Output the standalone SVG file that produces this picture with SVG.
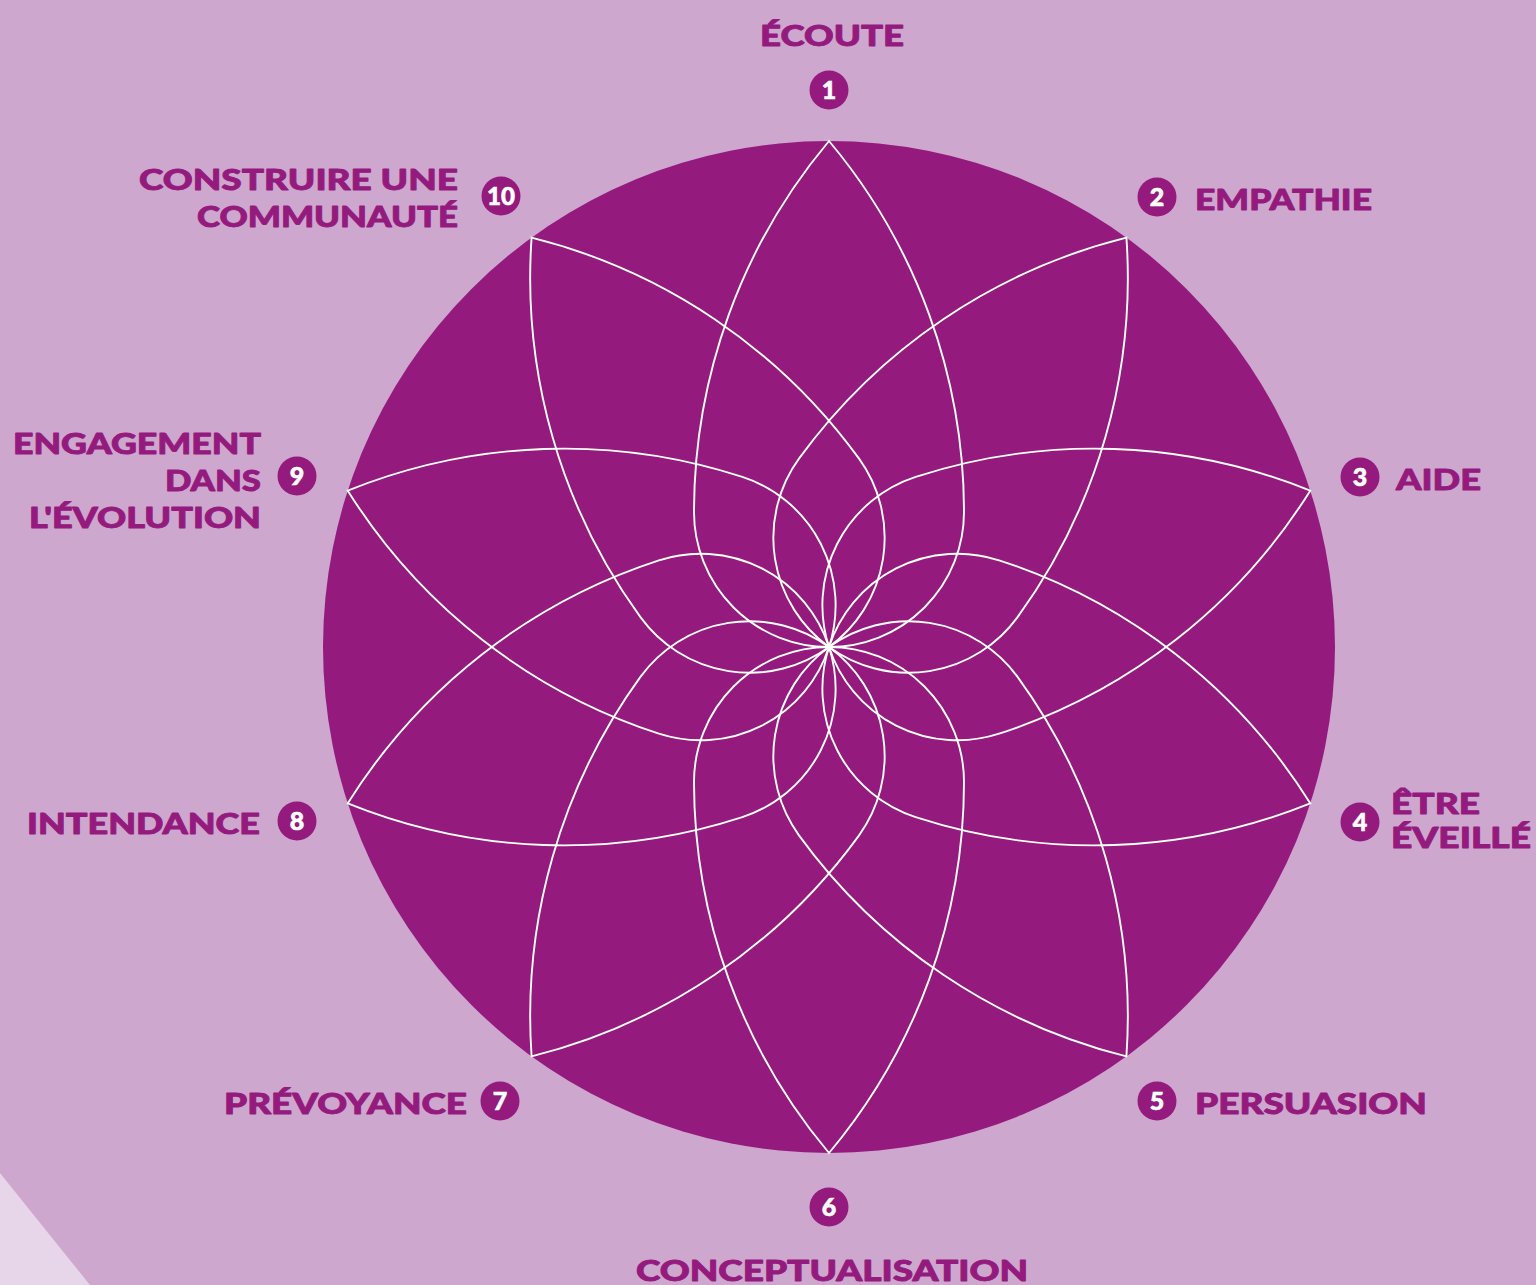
<svg xmlns="http://www.w3.org/2000/svg" xmlns:xlink="http://www.w3.org/1999/xlink" width="1536" height="1285" viewBox="0 0 1536 1285">
  <style>
    .label { font-family: Lato, "Liberation Sans", sans-serif; font-weight: 900; font-size: 29px; fill: #941b7d; stroke: #941b7d; stroke-width: 0.9; stroke-linejoin: round; }
    .num-disc { fill: #941b7d; }
    .num { font-family: Lato, "Liberation Sans", sans-serif; font-weight: 900; font-size: 25px; fill: #ffffff; stroke: #ffffff; stroke-width: 0.6; text-anchor: middle; }
    .petal { fill: none; stroke: #ffffff; stroke-width: 1.9; stroke-linejoin: miter; }
  </style>
  <defs>
    <!-- one teardrop petal: round end through the centre, point on the rim (R = 506) -->
    <path id="petal" class="petal" d="M0,0 A135,135 0 0 1 -135,-135 A577.3,577.3 0 0 1 0,-506 A577.3,577.3 0 0 1 135,-135 A135,135 0 0 1 0,0 Z"/>
  </defs>

  <!-- page background -->
  <rect x="0" y="0" width="1536" height="1285" fill="#cea7cf"/>
  <path d="M0,1173 Q44,1228 90,1285 L0,1285 Z" fill="#e7d6e9"/>

  <!-- rose disc -->
  <g id="rose">
    <circle cx="829" cy="647" r="506" fill="#941b7d"/>
    <g id="petals" transform="translate(829,647)">
      <use xlink:href="#petal" href="#petal" transform="rotate(0)"/>
      <use xlink:href="#petal" href="#petal" transform="rotate(36)"/>
      <use xlink:href="#petal" href="#petal" transform="rotate(72)"/>
      <use xlink:href="#petal" href="#petal" transform="rotate(108)"/>
      <use xlink:href="#petal" href="#petal" transform="rotate(144)"/>
      <use xlink:href="#petal" href="#petal" transform="rotate(180)"/>
      <use xlink:href="#petal" href="#petal" transform="rotate(216)"/>
      <use xlink:href="#petal" href="#petal" transform="rotate(252)"/>
      <use xlink:href="#petal" href="#petal" transform="rotate(288)"/>
      <use xlink:href="#petal" href="#petal" transform="rotate(324)"/>
    </g>
  </g>

  <g id="item-1">
    <text class="label" x="760" y="46" textLength="144" lengthAdjust="spacingAndGlyphs">ÉCOUTE</text>
    <circle class="num-disc" cx="829" cy="90" r="19.5"/>
    <text class="num" x="829" y="99">1</text>
  </g>

  <g id="item-2">
    <circle class="num-disc" cx="1157" cy="197" r="19.5"/>
    <text class="num" x="1157" y="206">2</text>
    <text class="label" x="1195" y="210" textLength="177" lengthAdjust="spacingAndGlyphs">EMPATHIE</text>
  </g>

  <g id="item-3">
    <circle class="num-disc" cx="1360" cy="477" r="19.5"/>
    <text class="num" x="1360" y="486">3</text>
    <text class="label" x="1396" y="490" textLength="85" lengthAdjust="spacingAndGlyphs">AIDE</text>
  </g>

  <g id="item-4">
    <circle class="num-disc" cx="1360" cy="822" r="19.5"/>
    <text class="num" x="1360" y="831">4</text>
    <text class="label" x="1391" y="814" font-size="26" textLength="89" lengthAdjust="spacingAndGlyphs">ÊTRE</text>
    <text class="label" x="1391" y="848" font-size="26" textLength="140" lengthAdjust="spacingAndGlyphs">ÉVEILLÉ</text>
  </g>

  <g id="item-5">
    <circle class="num-disc" cx="1157" cy="1101" r="19.5"/>
    <text class="num" x="1157" y="1110">5</text>
    <text class="label" x="1195" y="1114" textLength="232" lengthAdjust="spacingAndGlyphs">PERSUASION</text>
  </g>

  <g id="item-6">
    <circle class="num-disc" cx="829" cy="1207" r="19.5"/>
    <text class="num" x="829" y="1216">6</text>
    <text class="label" x="636" y="1281" textLength="392" lengthAdjust="spacingAndGlyphs">CONCEPTUALISATION</text>
  </g>

  <g id="item-7">
    <text class="label" x="224" y="1114" textLength="243" lengthAdjust="spacingAndGlyphs">PRÉVOYANCE</text>
    <circle class="num-disc" cx="500" cy="1101" r="19.5"/>
    <text class="num" x="500" y="1110">7</text>
  </g>

  <g id="item-8">
    <text class="label" x="27" y="834" textLength="233" lengthAdjust="spacingAndGlyphs">INTENDANCE</text>
    <circle class="num-disc" cx="297" cy="821" r="19.5"/>
    <text class="num" x="297" y="830">8</text>
  </g>

  <g id="item-9">
    <text class="label" x="13" y="454" textLength="248" lengthAdjust="spacingAndGlyphs">ENGAGEMENT</text>
    <text class="label" x="165" y="491" textLength="96" lengthAdjust="spacingAndGlyphs">DANS</text>
    <text class="label" x="29" y="528" textLength="232" lengthAdjust="spacingAndGlyphs">L'ÉVOLUTION</text>
    <circle class="num-disc" cx="297" cy="476" r="19.5"/>
    <text class="num" x="297" y="485">9</text>
  </g>

  <g id="item-10">
    <text class="label" x="139" y="190" textLength="319" lengthAdjust="spacingAndGlyphs">CONSTRUIRE UNE</text>
    <text class="label" x="197" y="227" textLength="261" lengthAdjust="spacingAndGlyphs">COMMUNAUTÉ</text>
    <circle class="num-disc" cx="501" cy="196" r="19.5"/>
    <text class="num" x="501" y="205" textLength="28" lengthAdjust="spacingAndGlyphs">10</text>
  </g>
</svg>
